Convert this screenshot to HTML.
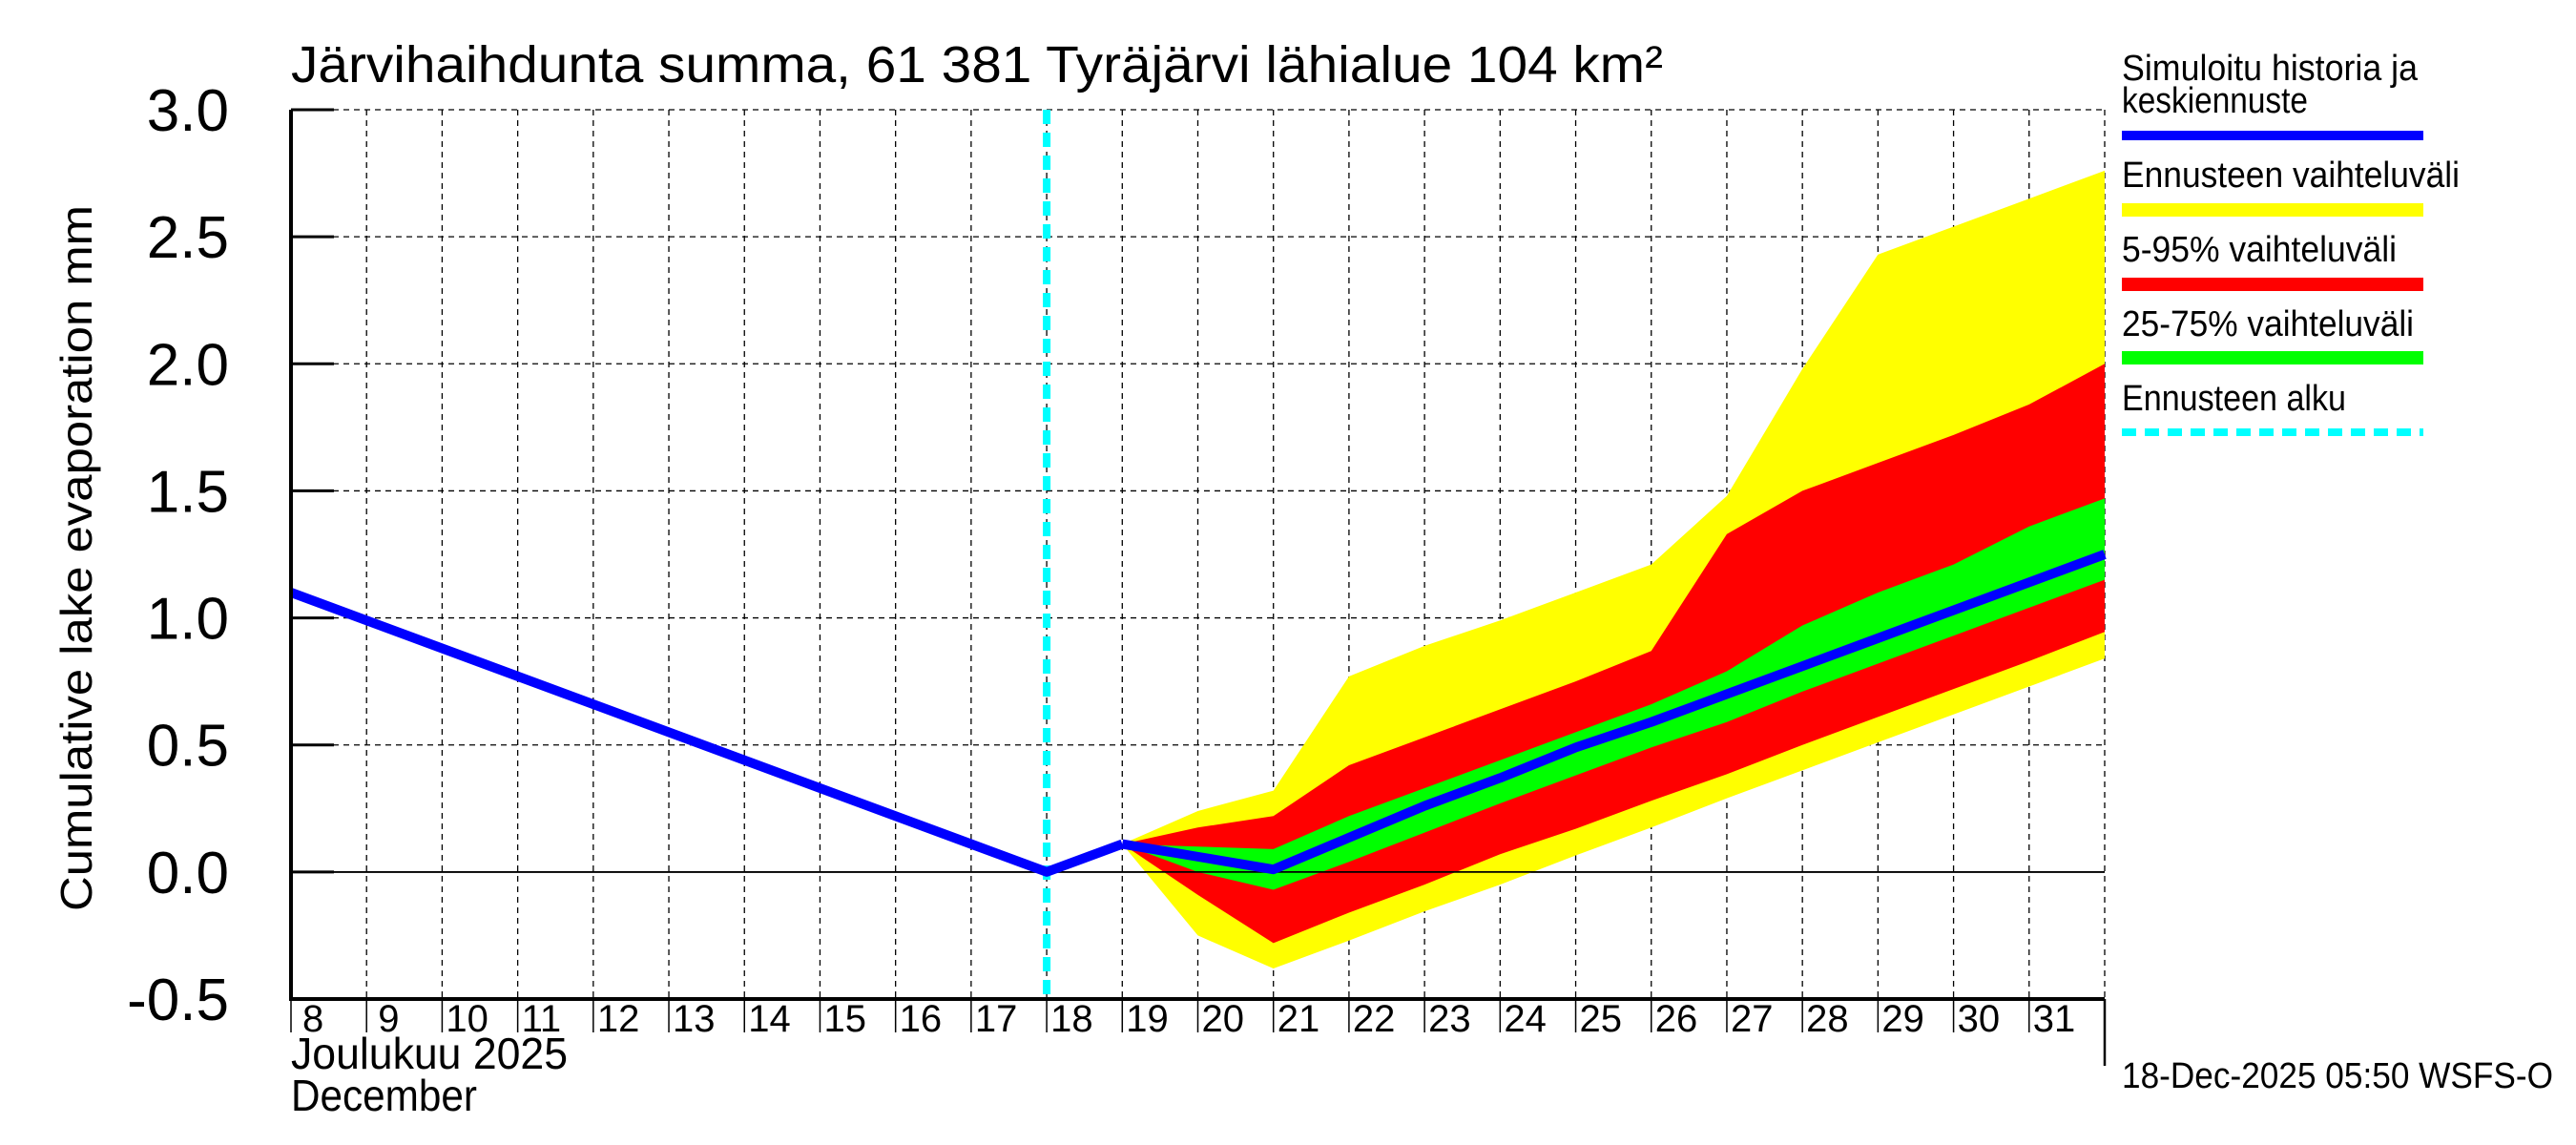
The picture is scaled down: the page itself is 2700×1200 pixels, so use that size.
<!DOCTYPE html>
<html><head><meta charset="utf-8"><style>
html,body{margin:0;padding:0;background:#fff}
svg{display:block;font-family:"Liberation Sans",Arial,sans-serif}
</style></head><body>
<svg id="chart" width="2700" height="1200" viewBox="0 0 2700 1200" xmlns="http://www.w3.org/2000/svg">
<rect width="2700" height="1200" fill="#fff"/>
<g id="grid"></g>
<g id="bands"></g>
<g id="lines"></g>
<g id="axes"></g>
<text x="305" y="86" font-size="54" textLength="1438" lengthAdjust="spacingAndGlyphs">Järvihaihdunta summa, 61 381 Tyräjärvi lähialue 104 km²</text>
<text transform="translate(96,585) rotate(-90)" text-anchor="middle" font-size="46" textLength="740" lengthAdjust="spacingAndGlyphs">Cumulative lake evaporation   mm</text>
<text x="305" y="1120" font-size="46" textLength="290" lengthAdjust="spacingAndGlyphs">Joulukuu  2025</text>
<text x="305" y="1164" font-size="46" textLength="195" lengthAdjust="spacingAndGlyphs">December</text>
<g>
<text x="2224" y="84" font-size="38" textLength="310" lengthAdjust="spacingAndGlyphs">Simuloitu historia ja</text>
<text x="2224" y="118" font-size="38" textLength="195" lengthAdjust="spacingAndGlyphs">keskiennuste</text>
<rect x="2224" y="137" width="316" height="10" fill="#0000ff"/>
<text x="2224" y="196" font-size="38" textLength="354" lengthAdjust="spacingAndGlyphs">Ennusteen vaihteluväli</text>
<rect x="2224" y="213" width="316" height="14" fill="#ffff00"/>
<text x="2224" y="274" font-size="38" textLength="288" lengthAdjust="spacingAndGlyphs">5-95% vaihteluväli</text>
<rect x="2224" y="291" width="316" height="14" fill="#ff0000"/>
<text x="2224" y="352" font-size="38" textLength="306" lengthAdjust="spacingAndGlyphs">25-75% vaihteluväli</text>
<rect x="2224" y="368" width="316" height="14" fill="#00ff00"/>
<text x="2224" y="430" font-size="38" textLength="235" lengthAdjust="spacingAndGlyphs">Ennusteen alku</text>
<line x1="2224" y1="453" x2="2540" y2="453" stroke="#00ffff" stroke-width="8" stroke-dasharray="15,9"/>
</g>
<text x="2224" y="1140" font-size="38" textLength="452" lengthAdjust="spacingAndGlyphs">18-Dec-2025 05:50 WSFS-O</text>
</svg>
<script>
const histDays=[8,18,19];
const histVals=[1.1,0.0,0.11];
const fcDays=[19,20,21,22,23,24,25,26,27,28,29,30,31,32];
const median=[0.11,0.06,0.01,0.135,0.26,0.37,0.49,0.59,0.70,0.81,0.92,1.03,1.14,1.25];
const yellowHi=[0.11,0.24,0.32,0.77,0.89,0.99,1.10,1.21,1.48,1.98,2.43,2.54,2.65,2.76];
const yellowLo=[0.11,-0.25,-0.38,-0.27,-0.155,-0.05,0.065,0.175,0.29,0.40,0.51,0.62,0.73,0.84];
const redHi=[0.11,0.175,0.22,0.42,0.53,0.64,0.75,0.87,1.33,1.50,1.61,1.72,1.84,2.00];
const redLo=[0.11,-0.09,-0.28,-0.16,-0.05,0.07,0.17,0.28,0.385,0.50,0.61,0.72,0.83,0.945];
const greenHi=[0.11,0.10,0.09,0.22,0.33,0.44,0.55,0.66,0.79,0.97,1.10,1.21,1.36,1.47];
const greenLo=[0.11,0.0,-0.07,0.04,0.155,0.27,0.38,0.49,0.59,0.71,0.82,0.93,1.04,1.15];
const yTicks=[-0.5,0.0,0.5,1.0,1.5,2.0,2.5,3.0];
const yTickLabels=["-0.5","0.0","0.5","1.0","1.5","2.0","2.5","3.0"];
const xTickDays=[8,9,10,11,12,13,14,15,16,17,18,19,20,21,22,23,24,25,26,27,28,29,30,31];
const forecastStartDay=18;

const X0=305,X1=2206,D0=8,D1=32,Y0=1047,Y1=115,V0=-0.5,V1=3.0;
const xs=d=>X0+(d-D0)*(X1-X0)/(D1-D0);
const ys=v=>Y0-(v-V0)*(Y0-Y1)/(V1-V0);
const NS="http://www.w3.org/2000/svg";
function mk(tag,attrs,parent){const e=document.createElementNS(NS,tag);for(const k in attrs)e.setAttribute(k,attrs[k]);parent.appendChild(e);return e;}
const grid=document.getElementById('grid'),bands=document.getElementById('bands'),lines=document.getElementById('lines'),axes=document.getElementById('axes');

xTickDays.forEach((d,i)=>{
  if(i>0){const g=mk('line',{x1:xs(d),x2:xs(d),y1:Y1,y2:Y0,stroke:'#000','stroke-width':1.3,'stroke-dasharray':'6,5'},grid);
  
  }
  const t=mk('line',{x1:xs(d),x2:xs(d),y1:Y0,y2:Y0+35,stroke:'#000','stroke-width':1.5},axes);
  
  
  const l=mk('text',{x:xs(d)+(d<10?12:4),y:1081,'font-size':40},axes);
  l.textContent=String(d);
  
  
});
mk('line',{x1:X1,x2:X1,y1:Y1,y2:Y0,stroke:'#000','stroke-width':1.3,'stroke-dasharray':'6,5'},grid);
yTicks.forEach((v,i)=>{
  if(v!==V0){const g=mk('line',{x1:X0,x2:X1,y1:ys(v),y2:ys(v),stroke:'#000','stroke-width':v===0?1.8:1.3,'stroke-dasharray':v===0?'none':'6,5'},grid);
  
  }
  const t=mk('line',{x1:X0,x2:X0+45,y1:ys(v),y2:ys(v),stroke:'#000','stroke-width':3},axes);
  
  
  const l=mk('text',{x:240,y:ys(v)+22,'font-size':62,'text-anchor':'end'},axes);
  l.textContent=yTickLabels[i];
  
  
});

function band(hi,lo,color,name){
  const pts=fcDays.map((d,i)=>xs(d)+','+ys(hi[i])).concat(fcDays.slice().reverse().map((d,j)=>{const i=fcDays.length-1-j;return xs(d)+','+ys(lo[i]);}));
  const p=mk('polygon',{points:pts.join(' '),fill:color},bands);
  
  
}
band(yellowHi,yellowLo,'#ffff00','band-full-range');
band(redHi,redLo,'#ff0000','band-5-95');
band(greenHi,greenLo,'#00ff00','band-25-75');

const zl=mk('line',{x1:X0,x2:X1,y1:ys(0),y2:ys(0),stroke:'#000','stroke-width':1.8},lines);



const cy=mk('line',{x1:xs(forecastStartDay),x2:xs(forecastStartDay),y1:Y1,y2:Y0,stroke:'#00ffff','stroke-width':8,'stroke-dasharray':'15,9'},lines);



const hp=mk('polyline',{points:histDays.map((d,i)=>xs(d)+','+ys(histVals[i])).join(' '),fill:'none',stroke:'#0000ff','stroke-width':10,'stroke-linejoin':'round'},lines);


const mp=mk('polyline',{points:fcDays.map((d,i)=>xs(d)+','+ys(median[i])).join(' '),fill:'none',stroke:'#0000ff','stroke-width':10,'stroke-linejoin':'round'},lines);



const ax=mk('polyline',{points:`${X0},${Y1} ${X0},${Y0} ${X1},${Y0}`,fill:'none',stroke:'#000','stroke-width':4},axes);


const rb=mk('line',{x1:X1,x2:X1,y1:Y0,y2:1117,stroke:'#000','stroke-width':2.5},axes);


</script>
</body></html>
